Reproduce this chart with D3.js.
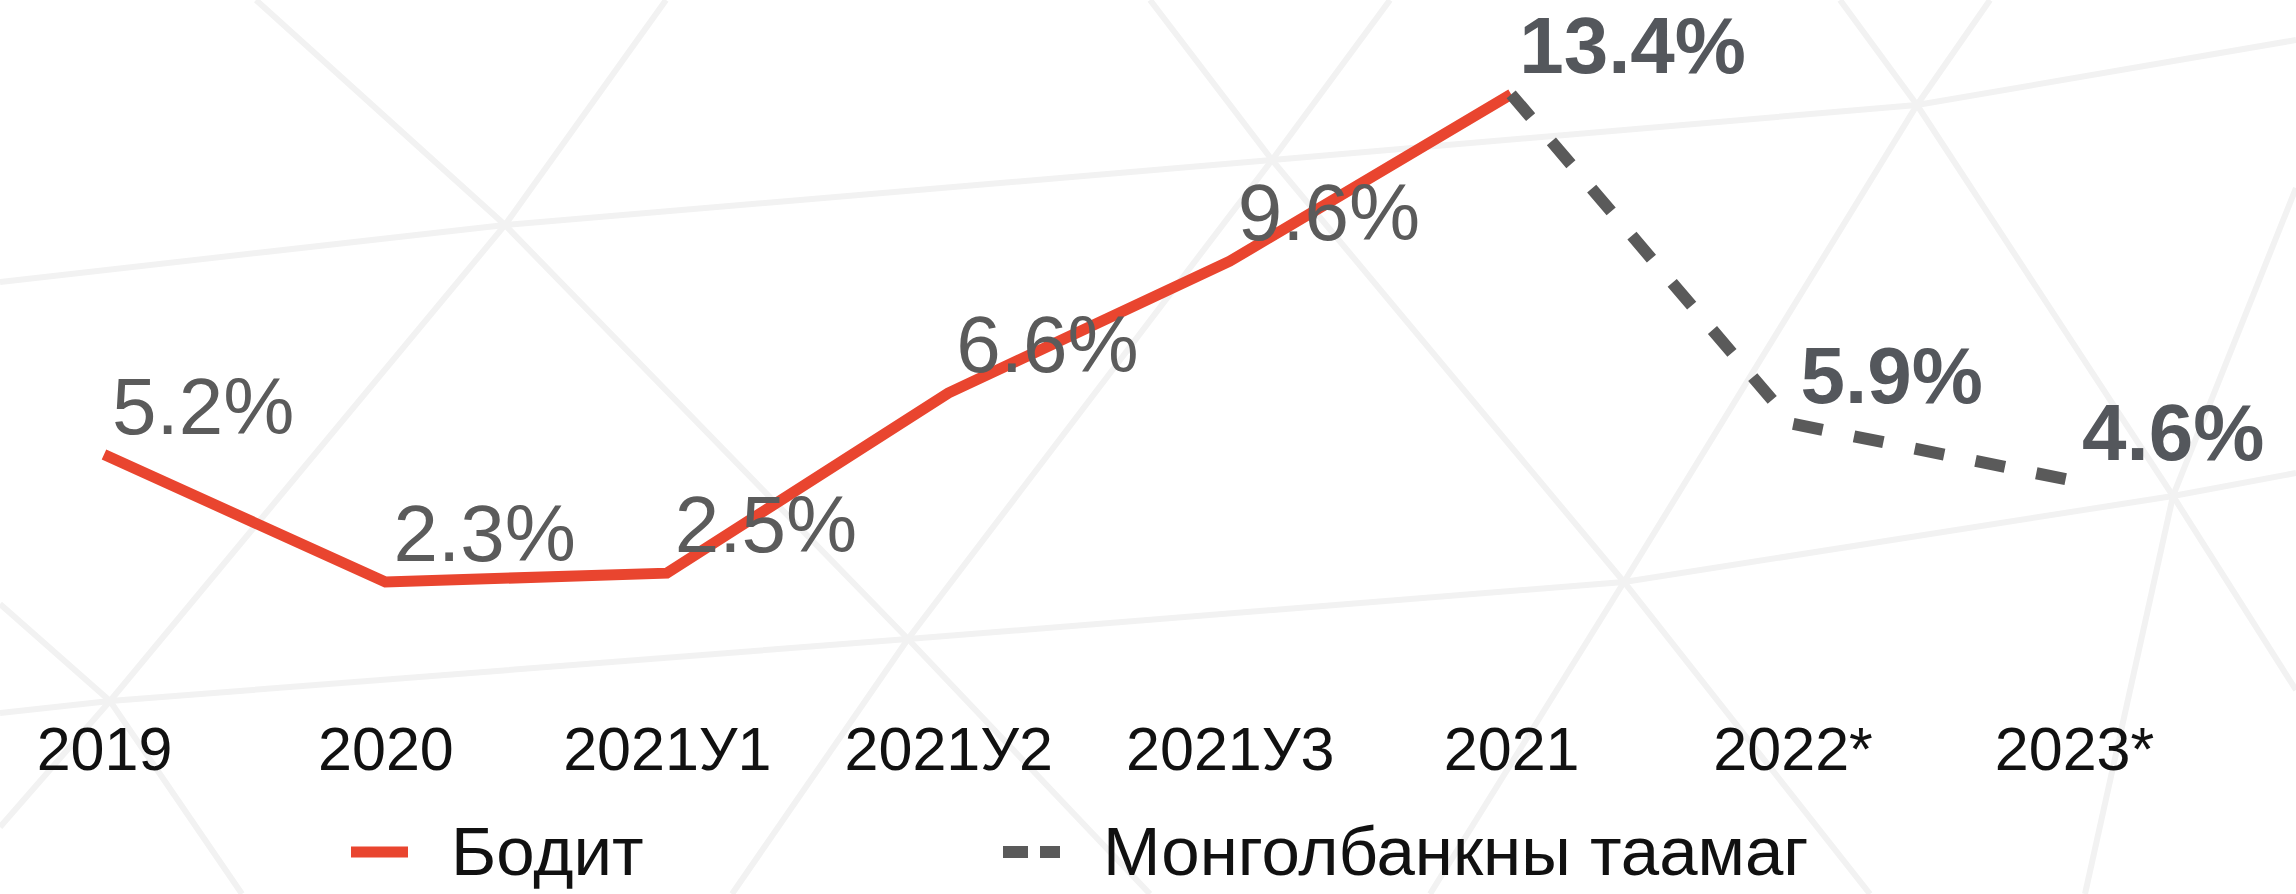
<!DOCTYPE html>
<html>
<head>
<meta charset="utf-8">
<script src="https://cdn.jsdelivr.net/npm/d3@7"></script>
<style>
  html, body { margin: 0; padding: 0; background: #fff; }
  svg { display: block; font-family: "Liberation Sans", Arial, Helvetica, sans-serif; }
</style>
</head>
<body>
<svg id="chart"></svg>
<script>
const WIDTH = 2296;
const HEIGHT = 894;
const MARGIN_LEFT = 104;   //first category centre
const MARGIN_RIGHT = 222;  //room for the last label (4.6%)
const PLOT_TOP = 24;       //where 15% sits
const PLOT_BOTTOM = 683;   //where 0% sits

// data
const categories = ["2019", "2020", "2021У1", "2021У2", "2021У3", "2021", "2022*", "2023*"];
const actualCats = ["2019", "2020", "2021У1", "2021У2", "2021У3", "2021"];
const actualValues = [5.2, 2.3, 2.5, 6.6, 9.6, 13.4];
const forecastCats = ["2021", "2022*", "2023*"];
const forecastValues = [13.4, 5.9, 4.6];
const seriesNames = ["Бодит", "Монголбанкны таамаг"];

// faint triangle pattern in the background (decoration only)
const bgLines = [
  [[0, 282], [505, 225], [1272, 160], [1917, 105], [2296, 40]],
  [[0, 713], [110, 701], [908, 639], [1624, 582], [2173, 496], [2296, 473]],
  [[256, 0], [505, 225], [908, 639], [1150, 894]],
  [[666, 0], [505, 225], [110, 701], [0, 827]],
  [[1390, 0], [1272, 160], [908, 639], [732, 894]],
  [[1150, 0], [1272, 160], [1624, 582], [1870, 894]],
  [[1990, 0], [1917, 105], [1624, 582], [1430, 894]],
  [[1840, 0], [1917, 105], [2173, 496], [2296, 690]],
  [[0, 604], [110, 701], [242, 894]],
  [[2296, 188], [2173, 496], [2085, 894]]
];

const RED = "#e9452f";
const GREY = "#5a5a5a";

const svg = d3.select("#chart")
  .attr("width", WIDTH)
  .attr("height", HEIGHT);

svg.append("rect")
  .attr("width", WIDTH)
  .attr("height", HEIGHT)
  .attr("fill", "#fff");

svg.append("g")
  .selectAll("path")
  .data(bgLines)
  .enter()
  .append("path")
  .attr("d", d3.line())
  .attr("fill", "none")
  .attr("stroke", "#f2f2f2")
  .attr("stroke-width", 6);

const x = d3.scalePoint()
  .domain(categories)
  .range([MARGIN_LEFT, WIDTH - MARGIN_RIGHT]);

const y = d3.scaleLinear()
  .domain([0, 15])
  .range([PLOT_BOTTOM, PLOT_TOP]);

const actual = actualCats.map((c, i) => ({cat: c, v: actualValues[i]}));
const forecast = forecastCats.map((c, i) => ({cat: c, v: forecastValues[i]}));

const line = d3.line()
  .x(d => x(d.cat))
  .y(d => y(d.v));

svg.append("path") //actual
  .datum(actual)
  .attr("d", line)
  .attr("fill", "none")
  .attr("stroke", RED)
  .attr("stroke-width", 11)
  .attr("stroke-linejoin", "miter");

svg.append("path") //forecast
  .datum(forecast)
  .attr("d", line)
  .attr("fill", "none")
  .attr("stroke", GREY)
  .attr("stroke-width", 12)
  .attr("stroke-dasharray", "30,32");

// value labels, forecast ones are bold
const labels = actual.filter(d => !forecastCats.includes(d.cat)).map(d => ({...d, bold: false}))
  .concat(forecast.map(d => ({...d, bold: true})));

svg.append("g")
  .selectAll("text")
  .data(labels)
  .enter()
  .append("text")
  .attr("x", d => x(d.cat) + 8)
  .attr("y", d => y(d.v) - 21)
  .attr("font-size", 80)
  .attr("font-weight", d => d.bold ? "bold" : "normal")
  .attr("fill", d => d.bold ? "#54575c" : "#5b5b5b")
  .text(d => d.v.toFixed(1) + "%");

// category axis
const xAxis = d3.axisBottom(x).tickSize(0).tickPadding(0);
const gx = svg.append("g")
  .attr("transform", "translate(0," + 770 + ")")
  .call(xAxis);
gx.select(".domain").remove();
gx.selectAll("text")
  .attr("y", 0)
  .attr("dy", 0)
  .attr("font-size", 61)
  .attr("font-family", "'Liberation Sans', Arial, sans-serif")
  .attr("fill", "#111");

// legend
const legend = svg.append("g");
const legendItems = [
  {name: seriesNames[0], color: RED, x: 351, dash: null, w: 11},
  {name: seriesNames[1], color: GREY, x: 1003, dash: "25,12", w: 12}
];
legendItems.forEach(item => {
  legend.append("line")
    .attr("x1", item.x)
    .attr("x2", item.x + 57)
    .attr("y1", 852)
    .attr("y2", 852)
    .attr("stroke", item.color)
    .attr("stroke-width", item.w)
    .attr("stroke-dasharray", item.dash);
  legend.append("text")
    .attr("x", item.x + 100)
    .attr("y", 875)
    .attr("font-size", 69)
    .attr("fill", "#111")
    .text(item.name);
});
</script>
</body>
</html>
